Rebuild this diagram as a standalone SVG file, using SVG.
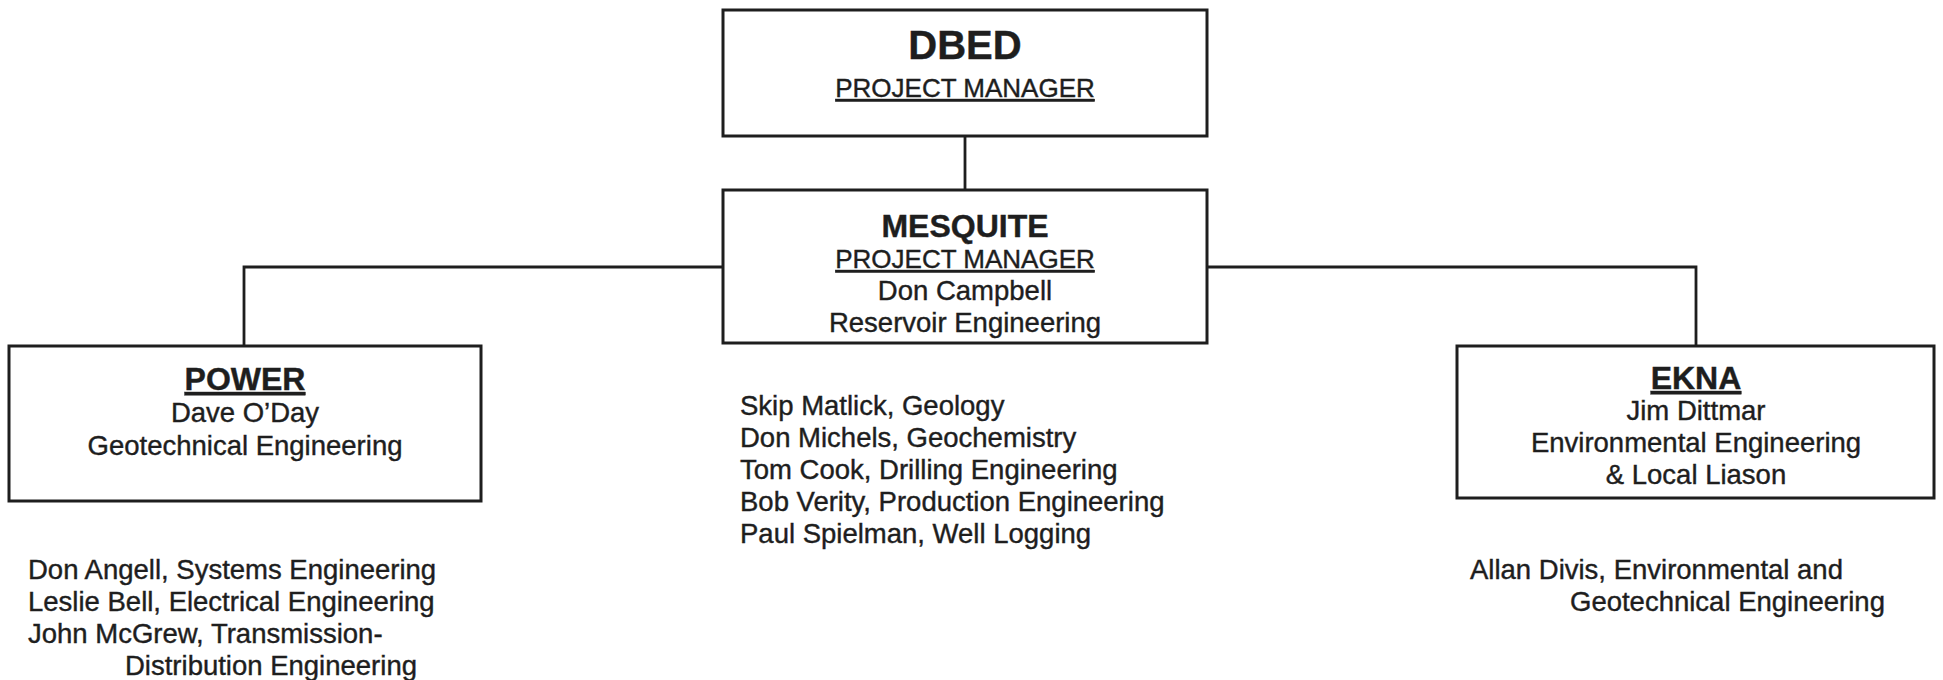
<svg xmlns="http://www.w3.org/2000/svg" width="1943" height="680" viewBox="0 0 1943 680">
<style>
.box{fill:none;stroke:#1e1e1e;stroke-width:3}
.con{fill:none;stroke:#1e1e1e;stroke-width:2.8}
text{font-family:"Liberation Sans",Arial,sans-serif;fill:#1e1e1e;stroke:#1e1e1e;stroke-width:0.4;font-size:27.5px}
.c{text-anchor:middle}
.h{font-weight:bold;font-size:32px}
.pm{font-size:26px;text-decoration:underline}
.u{text-decoration:underline}
</style>
<rect width="1943" height="680" fill="#fff"/>
<g id="connectors">
<line class="con" x1="965" y1="136" x2="965" y2="190"/>
<path class="con" d="M723,267 H244 V346"/>
<path class="con" d="M1207,267 H1696 V346"/>
</g>
<g id="dbed">
<rect class="box" x="723" y="10" width="484" height="126"/>
<text class="c h" x="965" y="59" style="font-size:40px">DBED</text>
<text class="c pm" x="965" y="97">PROJECT MANAGER</text>
</g>
<g id="mesquite">
<rect class="box" x="723" y="190" width="484" height="153"/>
<text class="c h" x="965" y="237">MESQUITE</text>
<text class="c pm" x="965" y="268">PROJECT MANAGER</text>
<text class="c" x="965" y="300">Don Campbell</text>
<text class="c" x="965" y="332">Reservoir Engineering</text>
</g>
<g id="power">
<rect class="box" x="9" y="346" width="472" height="155"/>
<text class="c h u" x="245" y="390">POWER</text>
<text class="c" x="245" y="422">Dave O’Day</text>
<text class="c" x="245" y="455">Geotechnical Engineering</text>
</g>
<g id="ekna">
<rect class="box" x="1457" y="346" width="477" height="152"/>
<text class="c h u" x="1696" y="389">EKNA</text>
<text class="c" x="1696" y="420">Jim Dittmar</text>
<text class="c" x="1696" y="452">Environmental Engineering</text>
<text class="c" x="1696" y="484">&amp; Local Liason</text>
</g>
<g id="mesquite-staff">
<text x="740" y="415">Skip Matlick, Geology</text>
<text x="740" y="447">Don Michels, Geochemistry</text>
<text x="740" y="479">Tom Cook, Drilling Engineering</text>
<text x="740" y="511">Bob Verity, Production Engineering</text>
<text x="740" y="543">Paul Spielman, Well Logging</text>
</g>
<g id="power-staff">
<text x="28" y="579">Don Angell, Systems Engineering</text>
<text x="28" y="611">Leslie Bell, Electrical Engineering</text>
<text x="28" y="643">John McGrew, Transmission-</text>
<text x="125" y="675">Distribution Engineering</text>
</g>
<g id="ekna-staff">
<text x="1470" y="579">Allan Divis, Environmental and</text>
<text x="1570" y="611">Geotechnical Engineering</text>
</g>
</svg>
